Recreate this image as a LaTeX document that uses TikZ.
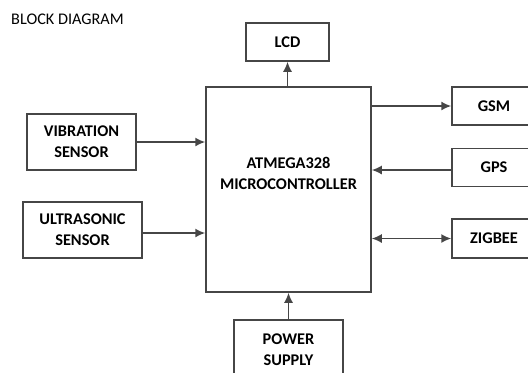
\documentclass[tikz,border=0pt]{standalone}
\usepackage{fontspec}
\setmainfont{Carlito}
\usepackage{tikz}
\usetikzlibrary{positioning, arrows.meta}
\definecolor{edgegray}{RGB}{70,70,70}
\tikzstyle{blk}=[draw=edgegray, line width=1.5bp, shape=rectangle, align=center, inner sep=0pt, font=\fontsize{16.4}{21}\selectfont\bfseries]
\tikzstyle{link}=[draw=edgegray, line width=1.6bp]
\tikzset{>={Latex[length=10bp, width=9bp]}}

\begin{document}
\begin{tikzpicture}[x=1bp, y=-1bp]
\useasboundingbox (0,0) rectangle (528,372);
\node[anchor=base west, inner sep=0pt, font=\fontsize{16.3}{19}\selectfont] (title) at (11,24) {BLOCK DIAGRAM};
\node[blk, minimum width=165bp, minimum height=205bp,
  label={[yshift=16bp, align=center, font=\fontsize{16.4}{21}\selectfont\bfseries]center:{ATMEGA328\\MICROCONTROLLER}}] (mcu) at (288.5,189.5) {};
\node[blk, minimum width=83bp, minimum height=38bp] (lcd) at (287.5,42) {LCD};
\node[blk, minimum width=109bp, minimum height=56bp] (vib) at (81.5,142) {VIBRATION\\SENSOR};
\node[blk, minimum width=119bp, minimum height=56bp] (ultra) at (82.5,230) {ULTRASONIC\\SENSOR};
\node[blk, minimum width=84bp, minimum height=38bp] (gsm) at (494,106) {GSM};
\node[blk, minimum width=84bp, minimum height=38bp] (gps) at (494,167.5) {GPS};
\node[blk, minimum width=84bp, minimum height=39bp] (zig) at (494,238.5) {ZIGBEE};
\node[blk, minimum width=109bp, minimum height=60bp] (pwr) at (288.5,350) {POWER\\SUPPLY};
%links
\draw[link, ->] (mcu.north -| lcd.south) -- (lcd.south);
\draw[link, ->] (vib.east) -- (vib.east -| mcu.west);
\draw[link, ->] ([yshift=-3bp]ultra.east) -- ([yshift=-3bp]ultra.east -| mcu.west);
\draw[link, ->] (gsm.west -| mcu.east) -- (gsm.west);
\draw[link, ->] ([yshift=-2.5bp]gps.west) -- ([yshift=-2.5bp]gps.west -| mcu.east);
\draw[link, <->] (zig.west -| mcu.east) -- (zig.west);
\draw[link, ->] (pwr.north) -- (pwr.north |- mcu.south);
\end{tikzpicture}
\end{document}
